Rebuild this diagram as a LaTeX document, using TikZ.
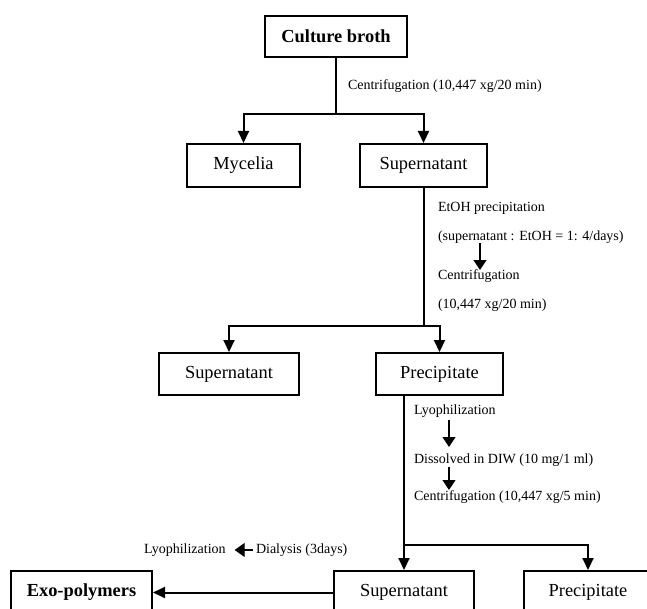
\documentclass[tikz,border=0pt]{standalone}
\usepackage{fontspec}
\setmainfont{Liberation Serif}
\usetikzlibrary{arrows.meta}

\begin{document}
\begin{tikzpicture}
  [x=0.5pt,y=-0.5pt,
   boxN/.style={rectangle,draw,inner sep=0pt,font=\fontsize{9.2}{11}\selectfont},
   stepN/.style={anchor=west,inner sep=0pt,font=\fontsize{7}{8.4}\selectfont},
   arr/.style={-{Triangle[width=5.5pt,length=6pt]}},
   sarr/.style={line width=0.6pt,-{Triangle[width=6.5pt,length=5pt]}},
   line width=1pt]

  \useasboundingbox (0,0) rectangle (647,609);

  \node[boxN,minimum width=71pt,minimum height=20.5pt] (broth) at (336,36.5) {\textbf{Culture broth}};
  \node[boxN,minimum width=56.5pt,minimum height=21.5pt] (myc) at (243.5,165.5) {Mycelia};
  \node[boxN,minimum width=63.5pt,minimum height=21.5pt] (sup1) at (423.5,165.5) {Supernatant};
  \node[boxN,minimum width=70pt,minimum height=21pt] (sup2) at (229,374) {Supernatant};
  \node[boxN,minimum width=63.5pt,minimum height=21pt] (prec1) at (439.5,374) {Precipitate};
  \node[boxN,minimum width=70.5pt,minimum height=21.5pt] (exo) at (81.5,592.5) {\textbf{Exo-polymers}};
  \node[boxN,minimum width=70pt,minimum height=21.5pt] (sup3) at (404,592.5) {Supernatant};
  \node[boxN,minimum width=64pt,minimum height=21.5pt] (prec2) at (588,592.5) {Precipitate};

  % step texts
  \node[stepN] (cent1) at (347,86) {Centrifugation (10,447 xg/20 min)};
  \node[stepN] (etoh) at (437,208) {EtOH precipitation};
  \node[stepN] (ratio) at (437,237) {(supernatant : EtOH = 1: 4/days)};
  \node[stepN] (cent2) at (437,276) {Centrifugation};
  \node[stepN] (cent2b) at (437,305) {(10,447 xg/20 min)};
  \node[stepN] (lyo1) at (413,411) {Lyophilization};
  \node[stepN] (diss) at (413,460) {Dissolved in DIW (10 mg/1 ml)};
  \node[stepN] (cent3) at (413,497) {Centrifugation (10,447 xg/5 min)};
  \node[stepN] (lyo2) at (143,550) {Lyophilization};
  \node[stepN] (dial) at (255,550) {Dialysis (3days)};

  \coordinate (j1) at (336,114);
  \coordinate (j2) at (423.5,326);
  \coordinate (j3) at (404,545);
  \coordinate (p1) at (404,395);

  \draw [] (broth) -- (j1);
  \draw [arr] (j1) -| (myc);
  \draw [arr] (j1) -| (sup1);

  \draw [] (sup1) -- (j2);
  \draw [arr] (j2) -| (sup2);
  \draw [arr] (j2) -| (prec1);

  \draw [] (p1) -- (j3);
  \draw [arr] (j3) -- (sup3);
  \draw [arr] (j3) -| (prec2);
  \draw [arr] (sup3) -- (exo);

  % small arrows between steps
  \coordinate (a1) at (480,243);
  \coordinate (a1e) at (480,270);
  \coordinate (a2) at (449,420);
  \coordinate (a2e) at (449,447);
  \coordinate (a3) at (449,467);
  \coordinate (a3e) at (449,490);
  \draw [sarr] (a1) -- (a1e);
  \draw [sarr] (a2) -- (a2e);
  \draw [sarr] (a3) -- (a3e);
  \draw [sarr,-{Triangle[width=7pt,length=5pt]}] ([xshift=-1pt]dial.west) -- ([xshift=4pt]lyo2.east);
\end{tikzpicture}
\end{document}
